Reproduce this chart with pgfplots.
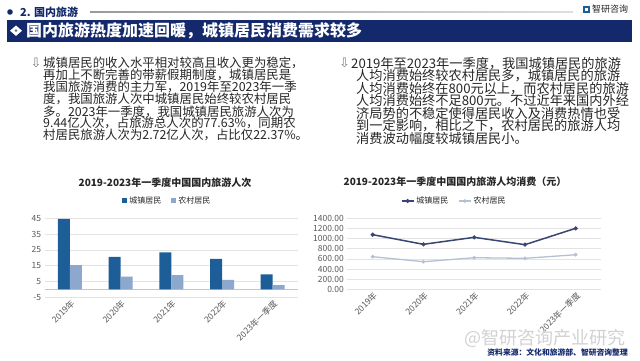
\documentclass[border=0pt]{standalone}
\usepackage{pgfplots}
\pgfplotsset{compat=1.18}
\usepackage{fontspec}
\setmainfont{Noto Sans CJK SC}
\newfontfamily\sym{DejaVu Sans}
\definecolor{navy}{HTML}{14296C}
\definecolor{urbanbar}{HTML}{1E5E98}
\definecolor{ruralbar}{HTML}{8DA8CE}
\definecolor{urbanline}{HTML}{384673}
\definecolor{ruralline}{HTML}{B5C1D3}
\definecolor{txt}{HTML}{262626}
\definecolor{tick}{HTML}{595959}
\begin{document}
\begin{tikzpicture}[x=1pt,y=1pt]
\path[use as bounding box, fill=white] (0,0) rectangle (640,360);
% header
\fill[navy] (10,348) circle (2.8);
\node[anchor=west, inner sep=0, text=navy, font=\fontsize{11}{12}\selectfont\bfseries] at (20,348) {2. 国内旅游};
\shade[left color=gray!80, right color=gray!25] (90,347.6) rectangle (573,348.6);
\fill[urbanbar] (583,347) rectangle (590,354);
\fill[white] (585,349) rectangle (588,352);
\node[anchor=west, inner sep=0, text=txt, font=\fontsize{9}{10}\selectfont] at (592,350.7) {智研咨询};
\fill[navy] (7,318.5) rectangle (632,340);
\fill[white] (10,329.3) -- (16,334.5) -- (22,329.3) -- (16,324.1) -- cycle;
\fill[navy!60] (16,329.3) circle (1.5);
\node[anchor=west, inner sep=0, text=white, font=\fontsize{16}{18}\selectfont\bfseries] at (26,329.5) {国内旅游热度加速回暖，城镇居民消费需求较多};
% left paragraph
\node[anchor=center, inner sep=0, text=gray, font=\sym\fontsize{13}{13}\selectfont] at (36,296.7) {⇩};
\begin{scope}[every node/.style={anchor=west, inner sep=0, text=txt, font=\fontsize{12.4}{13}\selectfont}]
\node at (43,296.7) {城镇居民的收入水平相对较高且收入更为稳定，};
\node at (43,284.7) {再加上不断完善的带薪假期制度，城镇居民是};
\node at (43,272.7) {我国旅游消费的主力军，2019年至2023年一季};
\node at (43,260.7) {度，我国旅游人次中城镇居民始终较农村居民};
\node at (43,248.5) {多。2023年一季度，我国城镇居民旅游人次为};
\node at (43,236.7) {9.44亿人次，占旅游总人次的77.63\%，同期农};
\node at (43,225.0) {村居民旅游人次为2.72亿人次，占比仅22.37\%。};
\end{scope}
% right paragraph
\node[anchor=center, inner sep=0, text=gray, font=\sym\fontsize{13}{13}\selectfont] at (344.5,296.7) {⇩};
\begin{scope}[every node/.style={anchor=west, inner sep=0, text=txt, font=\fontsize{13.2}{14}\selectfont}]
\node at (351,296.7) {2019年至2023年一季度，我国城镇居民的旅游};
\node at (356,284.0) {人均消费始终较农村居民多，城镇居民的旅游};
\node at (356,271.7) {人均消费始终在800元以上，而农村居民的旅游};
\node at (356,259.3) {人均消费始终不足800元。不过近年来国内外经};
\node at (356,246.7) {济局势的不稳定使得居民收入及消费热情也受};
\node at (356,234.0) {到一定影响，相比之下，农村居民的旅游人均};
\node at (356,221.7) {消费波动幅度较城镇居民小。};
\end{scope}
% chart titles
\node[inner sep=0, text=txt, font=\fontsize{10}{11}\selectfont\bfseries] at (165,177) {2019-2023年一季度中国国内旅游人次};
\node[inner sep=0, text=txt, font=\fontsize{10}{11}\selectfont\bfseries] at (455,178) {2019-2023年一季度中国国内旅游人均消费（元）};
% bar chart
\begin{axis}[
  at={(44.6pt,62.7pt)}, anchor=south west, scale only axis,
  width=253.5pt, height=79pt,
  xmin=-0.5, xmax=4.5, ymin=-5, ymax=45,
  ytick={-5,5,15,25,35,45},
  extra y ticks={0}, extra y tick labels={},
  extra y tick style={grid=major, major grid style={draw=gray!45, line width=0.6pt}},
  xtick={0,1,2,3,4},
  xticklabels={2019年,2020年,2021年,2022年,2023年一季度},
  xticklabel style={rotate=45, anchor=north east, inner sep=1pt, text=tick, font=\fontsize{8.5}{9}\selectfont},
  yticklabel style={text=tick, font=\fontsize{8.5}{9}\selectfont},
  /pgf/number format/assume math mode=true,
  axis line style={draw=none}, major tick length=0pt,
  ymajorgrids, major grid style={draw=gray!22, line width=0.6pt},
  ybar=0pt, bar width=12pt,
  legend columns=2,
  legend style={at={(0.5,1)}, anchor=south, yshift=9pt, xshift=-4pt, draw=none, fill=none,
    font=\fontsize{8}{9}\selectfont, text=txt,
    /tikz/every even column/.append style={column sep=8pt}},
  legend image code/.code={\fill[#1] (0pt,-2.5pt) rectangle (5pt,2.5pt);},
]
\addplot[fill=urbanbar, draw=none] coordinates {(0,44.71) (1,20.65) (2,23.42) (3,19.28) (4,9.44)};
\addplot[fill=ruralbar, draw=none] coordinates {(0,15.35) (1,8.14) (2,9.04) (3,6.02) (4,2.72)};
\legend{城镇居民,农村居民}
\end{axis}
% line chart
\begin{axis}[
  at={(347.3pt,70.7pt)}, anchor=south west, scale only axis,
  width=253.8pt, height=71pt,
  xmin=-0.5, xmax=4.5, ymin=0, ymax=1400,
  ytick={0,200,...,1400},
  xtick={0,1,2,3,4},
  xticklabels={2019年,2020年,2021年,2022年,2023年一季度},
  xticklabel style={rotate=45, anchor=north east, inner sep=1pt, text=tick, font=\fontsize{8.5}{9}\selectfont},
  yticklabel style={text=tick, font=\fontsize{8.5}{9}\selectfont,
    /pgf/number format/.cd, fixed, fixed zerofill, precision=2, 1000 sep={}},
  /pgf/number format/assume math mode=true,
  axis line style={draw=none}, major tick length=0pt,
  ymajorgrids, major grid style={draw=gray!22, line width=0.6pt},
  legend columns=2,
  legend style={at={(0.5,1)}, anchor=south, yshift=9pt, xshift=-20pt, draw=none, fill=none,
    font=\fontsize{8}{9}\selectfont, text=txt,
    /tikz/every even column/.append style={column sep=8pt}},
  legend image code/.code={\draw[mark repeat=2, mark phase=2, #1] plot coordinates {(0pt,0pt) (6pt,0pt) (12pt,0pt)};},
]
\addplot[color=urbanline, line width=1.5pt, mark=*, mark size=1.2pt] coordinates {(0,1077) (1,887) (2,1025) (3,880) (4,1203)};
\addplot[color=ruralline, line width=1.3pt, mark=*, mark size=1.1pt] coordinates {(0,643) (1,544) (2,623) (3,611) (4,682)};
\legend{城镇居民,农村居民}
\end{axis}
% bottom texts
\node[anchor=east, inner sep=0, text=gray!35, font=\fontsize{18}{20}\selectfont] at (626,22) {@智研咨询产业研究};
\node[anchor=east, inner sep=0, text=navy, font=\fontsize{7.8}{9}\selectfont\bfseries] at (628,7) {资料来源：文化和旅游部、智研咨询整理};
\end{tikzpicture}
\end{document}
